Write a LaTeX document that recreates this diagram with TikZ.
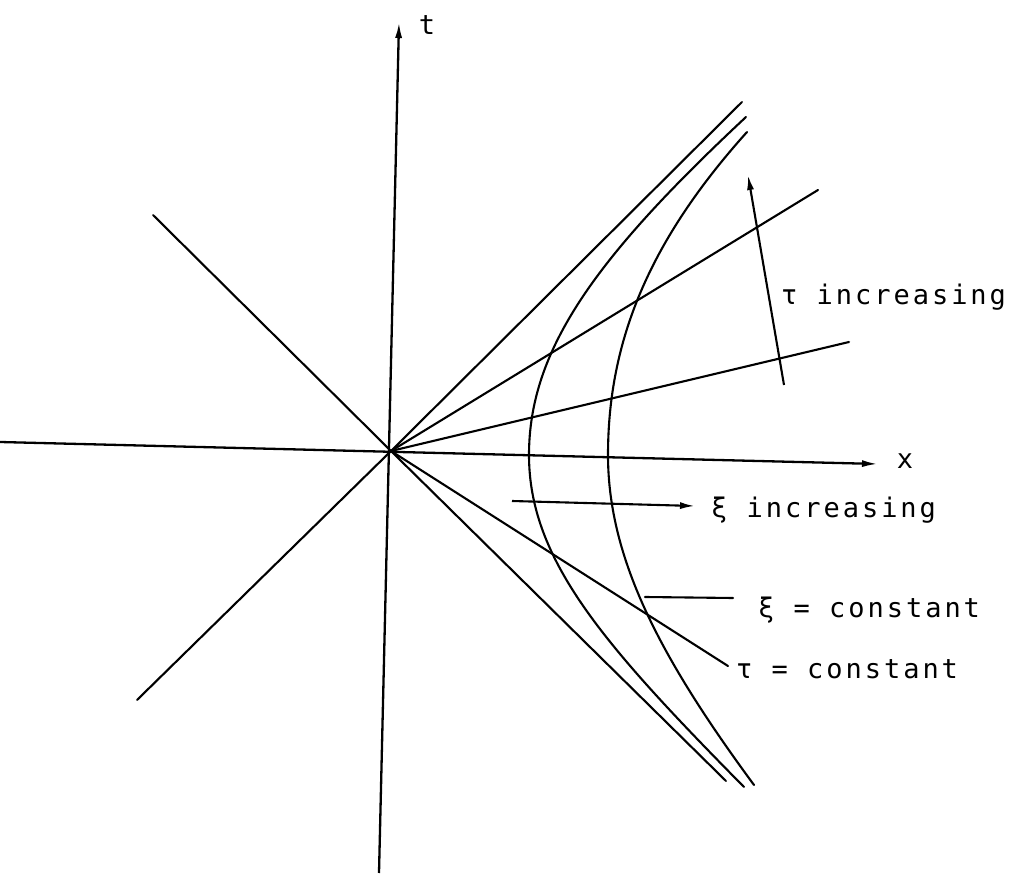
\documentclass[tikz,border=0pt]{standalone}
\usepackage{fontspec}
\newfontfamily\labfont[LetterSpace=11]{DejaVu Sans Mono}
\usetikzlibrary{arrows.meta}
\begin{document}
\begin{tikzpicture}[x=1pt,y=-1pt,
  ln/.style={line width=2.1pt, line cap=round},
  axis/.style={line width=2.3pt, -{Latex[length=16pt,width=7pt]}},
  arr/.style={line width=2.1pt, -{Latex[length=15pt,width=7pt]}},
  lbl/.style={font=\labfont\fontsize{27}{30}\selectfont, inner sep=0pt, anchor=base west}]
\useasboundingbox (0,0) rectangle (1018,882);
% origin and end points
\coordinate (O) at (391,451);
\coordinate (tb) at (379,873);
\coordinate (tt) at (399,22);
\coordinate (xl) at (0,442);
\coordinate (xr) at (878,464);
\coordinate (ul) at (153,215);
\coordinate (ll) at (137,700);
\coordinate (lcu) at (742,102);
\coordinate (lcd) at (726,781);
\coordinate (tau1) at (818,190);
\coordinate (tau2) at (849,342);
\coordinate (tau3) at (728,666);
% axes
\draw[axis] (tb) -- (tt);
\draw[axis] (xl) -- (xr);
% light cone
\draw[ln] (ul) -- (O) -- (lcd);
\draw[ln] (ll) -- (O) -- (lcu);
% tau = constant lines
\draw[ln] (O) -- (tau1);
\draw[ln] (O) -- (tau2);
\draw[ln] (O) -- (tau3);
% xi = constant hyperbolas
\coordinate (h1a) at (746,117);
\coordinate (h1v) at (529,455);
\coordinate (h1b) at (744,787);
\coordinate (h2a) at (747,132);
\coordinate (h2v) at (608,455);
\coordinate (h2b) at (754,785);
\draw[ln] (h1a) .. controls (595,258) and (529,350) .. (h1v)
              .. controls (529,560) and (604,645) .. (h1b);
\draw[ln] (h2a) .. controls (650,240) and (608,340) .. (h2v)
              .. controls (608,560) and (662,660) .. (h2b);
% arrows
\coordinate (tia) at (784,385);
\coordinate (tib) at (748,175);
\draw[arr] (tia) -- (tib);
\coordinate (xia) at (512,501);
\coordinate (xib) at (695,506);
\draw[arr] (xia) -- (xib);
\coordinate (xca) at (645,597);
\coordinate (xcb) at (733,598);
\draw[ln] (xca) -- (xcb);
% labels
\node[font=\labfont\fontsize{27}{30}\selectfont, inner sep=0pt, anchor=base] (tlab) at (427,35) {t};
\node[font=\labfont\fontsize{27}{30}\selectfont, inner sep=0pt, anchor=base] (xlab) at (905,469) {x};
\node[lbl] (tinc) at (781,305) {τ increasing};
\node[lbl] (xinc) at (711,518) {ξ increasing};
\node[lbl] (xcon) at (758,617) {ξ = constant};
\node[lbl] (tcon) at (736,678) {τ = constant};
\end{tikzpicture}
\end{document}
